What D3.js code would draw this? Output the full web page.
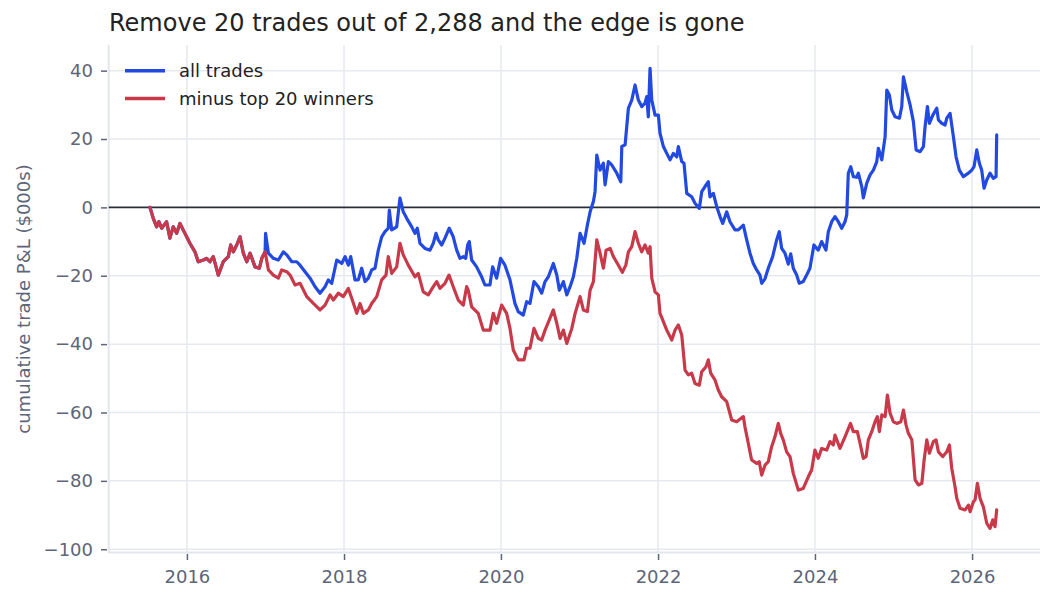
<!DOCTYPE html>
<html>
<head>
<meta charset="utf-8">
<script src="https://cdn.jsdelivr.net/npm/d3@7"></script>
<style>
  html, body { margin: 0; padding: 0; background: #fff; }
  svg { display: block; font-family: "DejaVu Sans", sans-serif; }
</style>
</head>
<body>
<svg id="chart" width="1053" height="602"></svg>
<script>
// stretch where both curves are the same (before the first removed winner)
const sharedYears = [2015.529, 2015.571, 2015.614, 2015.643, 2015.678, 2015.741, 2015.783, 2015.825, 2015.869, 2015.911, 2015.975, 2016.038, 2016.102, 2016.144, 2016.208, 2016.251, 2016.293, 2016.335, 2016.399, 2016.462, 2016.526, 2016.557, 2016.590, 2016.633, 2016.675, 2016.717, 2016.761, 2016.803, 2016.866, 2016.921, 2016.952, 2016.994];
const sharedValues = [0, -3.2, -5.7, -4.2, -6.1, -4.2, -9.0, -5.7, -7.6, -4.7, -7.6, -10.5, -13.0, -15.9, -15.4, -14.9, -15.9, -14.4, -19.8, -15.9, -14.4, -11.0, -13.0, -11.0, -8.6, -13.4, -15.9, -13.4, -17.4, -17.8, -14.9, -13.0];

// all trades
const allYears = [2017.000, 2017.036, 2017.099, 2017.163, 2017.227, 2017.270, 2017.334, 2017.397, 2017.439, 2017.503,
  2017.567, 2017.631, 2017.694, 2017.758, 2017.800, 2017.843, 2017.907, 2017.971, 2018.013, 2018.055,
  2018.085, 2018.140, 2018.182, 2018.225, 2018.268, 2018.310, 2018.353, 2018.395, 2018.437, 2018.480,
  2018.522, 2018.564, 2018.577, 2018.608, 2018.671, 2018.713, 2018.755, 2018.799, 2018.863, 2018.904,
  2018.934, 2018.968, 2019.032, 2019.096, 2019.138, 2019.172, 2019.201, 2019.245, 2019.287, 2019.341,
  2019.392, 2019.436, 2019.478, 2019.520, 2019.551, 2019.576, 2019.596, 2019.627, 2019.690, 2019.754,
  2019.796, 2019.860, 2019.894, 2019.945, 2019.996, 2020.051, 2020.115, 2020.178, 2020.220, 2020.284,
  2020.327, 2020.369, 2020.420, 2020.475, 2020.518, 2020.561, 2020.603, 2020.666, 2020.710, 2020.743,
  2020.794, 2020.837, 2020.879, 2020.921, 2020.964, 2021.006, 2021.057, 2021.099, 2021.134, 2021.176,
  2021.197, 2021.219, 2021.261, 2021.303, 2021.325, 2021.367, 2021.410, 2021.474, 2021.525, 2021.538,
  2021.580, 2021.622, 2021.665, 2021.707, 2021.749, 2021.792, 2021.834, 2021.856, 2021.876, 2021.898,
  2021.920, 2021.962, 2022.004, 2022.025, 2022.068, 2022.111, 2022.153, 2022.195, 2022.238, 2022.259,
  2022.302, 2022.331, 2022.366, 2022.429, 2022.471, 2022.526, 2022.557, 2022.599, 2022.641, 2022.662,
  2022.705, 2022.748, 2022.790, 2022.824, 2022.875, 2022.917, 2022.981, 2023.023, 2023.087, 2023.130,
  2023.172, 2023.214, 2023.257, 2023.299, 2023.321, 2023.363, 2023.405, 2023.461, 2023.512, 2023.545,
  2023.576, 2023.618, 2023.660, 2023.691, 2023.724, 2023.767, 2023.800, 2023.851, 2023.894, 2023.936,
  2023.987, 2024.042, 2024.085, 2024.140, 2024.170, 2024.213, 2024.255, 2024.297, 2024.340, 2024.382,
  2024.404, 2024.424, 2024.455, 2024.488, 2024.531, 2024.552, 2024.595, 2024.615, 2024.659, 2024.701,
  2024.743, 2024.786, 2024.806, 2024.850, 2024.892, 2024.913, 2024.946, 2024.977, 2025.019, 2025.074,
  2025.104, 2025.125, 2025.168, 2025.210, 2025.252, 2025.287, 2025.338, 2025.380, 2025.401, 2025.431,
  2025.456, 2025.500, 2025.550, 2025.571, 2025.614, 2025.656, 2025.678, 2025.720, 2025.762, 2025.796,
  2025.838, 2025.889, 2025.953, 2025.996, 2026.025, 2026.060, 2026.093, 2026.123, 2026.153, 2026.187,
  2026.229, 2026.271, 2026.306, 2026.314];
const allValues = [-7.6, -13.4, -14.9, -15.4, -13.0, -13.9, -15.9, -15.9, -16.9, -18.8,
  -20.7, -23.2, -25.1, -23.2, -21.2, -22.2, -15.4, -16.4, -14.4, -16.9,
  -14.4, -21.2, -21.2, -17.8, -21.7, -20.7, -18.3, -17.8, -12.5, -8.6,
  -7.1, -6.1, -0.8, -6.6, -5.7, 2.7, -1.3, -3.2, -5.7, -7.6,
  -6.1, -10.5, -12.0, -12.5, -10.5, -7.6, -9.5, -11.0, -9.0, -6.1,
  -8.6, -12.5, -14.9, -14.4, -14.9, -11.0, -10.0, -15.4, -17.4, -20.3,
  -22.7, -22.7, -17.4, -20.7, -14.9, -16.9, -21.2, -28.1, -30.5, -31.5,
  -27.6, -28.1, -21.7, -23.2, -25.1, -21.7, -20.3, -16.4, -19.8, -24.2,
  -21.7, -25.6, -23.2, -20.3, -14.9, -7.6, -10.5, -5.2, -1.3, 1.7,
  4.6, 15.3, 10.9, 12.9, 6.6, 13.4, 12.4, 10.0, 7.5, 17.8,
  18.3, 29.0, 31.4, 35.8, 31.4, 29.5, 30.5, 32.4, 26.5, 40.7,
  31.4, 27.0, 27.0, 21.7, 17.8, 15.8, 13.9, 15.8, 14.8, 17.8,
  13.4, 12.9, 4.1, 3.1, 1.2, -0.3, 4.6, 6.1, 7.5, 3.1,
  4.1, 0.2, -2.7, -4.7, -1.3, -4.2, -6.6, -6.6, -5.2, -9.5,
  -13.4, -16.4, -18.3, -19.8, -22.2, -20.9, -17.8, -14.4, -9.5, -7.1,
  -12.0, -13.4, -16.6, -13.6, -17.8, -19.8, -22.2, -21.7, -19.8, -17.8,
  -11.0, -12.5, -10.0, -12.5, -7.1, -4.2, -2.7, -4.2, -6.1, -4.2,
  -2.2, 10.0, 11.9, 9.0, 8.8, 10.0, 6.1, 2.8, 7.1, 9.5,
  10.9, 13.4, 17.3, 13.9, 20.7, 34.3, 32.9, 28.5, 26.5, 26.1,
  29.5, 38.2, 33.8, 30.0, 25.1, 16.8, 16.3, 17.8, 23.6, 29.5,
  24.6, 27.0, 29.0, 25.6, 24.6, 24.1, 26.1, 27.5, 20.7, 14.8,
  10.9, 9.0, 10.0, 10.9, 11.9, 16.8, 12.9, 10.9, 5.6, 8.0,
  10.0, 8.5, 9.0, 21.2];

// minus top 20 winners
const minusYears = [2017.036, 2017.099, 2017.163, 2017.206, 2017.270, 2017.312, 2017.376, 2017.439, 2017.525, 2017.609,
  2017.694, 2017.758, 2017.822, 2017.864, 2017.927, 2017.991, 2018.055, 2018.098, 2018.162, 2018.204,
  2018.246, 2018.310, 2018.353, 2018.417, 2018.480, 2018.535, 2018.564, 2018.608, 2018.671, 2018.713,
  2018.755, 2018.819, 2018.904, 2018.946, 2019.010, 2019.074, 2019.138, 2019.181, 2019.223, 2019.287,
  2019.338, 2019.392, 2019.456, 2019.520, 2019.563, 2019.583, 2019.627, 2019.711, 2019.775, 2019.860,
  2019.902, 2019.945, 2020.009, 2020.073, 2020.115, 2020.157, 2020.220, 2020.293, 2020.327, 2020.369,
  2020.420, 2020.475, 2020.518, 2020.561, 2020.615, 2020.666, 2020.710, 2020.752, 2020.794, 2020.837,
  2020.901, 2020.943, 2021.006, 2021.048, 2021.099, 2021.134, 2021.176, 2021.219, 2021.261, 2021.303,
  2021.338, 2021.389, 2021.431, 2021.482, 2021.545, 2021.589, 2021.622, 2021.665, 2021.707, 2021.749,
  2021.792, 2021.834, 2021.876, 2021.898, 2021.920, 2021.962, 2022.004, 2022.025, 2022.068, 2022.111,
  2022.175, 2022.217, 2022.259, 2022.302, 2022.344, 2022.386, 2022.429, 2022.471, 2022.526, 2022.557,
  2022.611, 2022.641, 2022.671, 2022.726, 2022.768, 2022.811, 2022.875, 2022.939, 2023.002, 2023.087,
  2023.108, 2023.150, 2023.193, 2023.257, 2023.290, 2023.321, 2023.363, 2023.405, 2023.448, 2023.490,
  2023.533, 2023.563, 2023.596, 2023.639, 2023.682, 2023.724, 2023.788, 2023.851, 2023.915, 2023.958,
  2024.000, 2024.042, 2024.085, 2024.149, 2024.191, 2024.233, 2024.255, 2024.318, 2024.382, 2024.452,
  2024.488, 2024.539, 2024.573, 2024.615, 2024.650, 2024.679, 2024.722, 2024.764, 2024.793, 2024.819,
  2024.850, 2024.892, 2024.921, 2024.955, 2024.997, 2025.041, 2025.092, 2025.125, 2025.159, 2025.188,
  2025.232, 2025.274, 2025.316, 2025.360, 2025.389, 2025.423, 2025.456, 2025.507, 2025.541, 2025.571,
  2025.627, 2025.678, 2025.711, 2025.741, 2025.783, 2025.805, 2025.847, 2025.911, 2025.954, 2025.975,
  2026.017, 2026.038, 2026.068, 2026.102, 2026.144, 2026.187, 2026.229, 2026.264, 2026.293, 2026.314];
const minusValues = [-18.3, -19.8, -20.7, -18.3, -18.8, -19.8, -22.7, -22.2, -26.1, -28.1,
  -30.0, -28.6, -25.6, -27.1, -25.1, -26.1, -23.7, -26.6, -31.0, -28.1,
  -31.0, -30.0, -28.1, -26.1, -21.2, -19.8, -14.4, -19.3, -17.4, -10.5,
  -13.9, -16.9, -20.3, -19.3, -24.7, -25.6, -23.2, -21.7, -23.7, -22.2,
  -19.8, -23.2, -27.1, -28.6, -23.2, -24.2, -29.1, -31.0, -35.9, -35.9,
  -31.0, -33.9, -28.6, -31.0, -35.4, -41.7, -44.6, -44.6, -41.2, -41.2,
  -35.4, -38.3, -38.8, -35.9, -32.9, -30.0, -33.9, -38.3, -35.9, -39.8,
  -35.4, -31.0, -26.1, -30.0, -30.5, -24.2, -21.7, -9.5, -13.4, -17.8,
  -12.5, -12.0, -14.4, -16.4, -19.0, -16.9, -13.0, -11.5, -7.1, -10.5,
  -13.0, -11.0, -13.4, -11.5, -20.7, -24.7, -25.6, -31.0, -33.4, -35.9,
  -38.8, -35.9, -34.4, -37.3, -47.6, -49.0, -48.5, -51.5, -52.0, -48.1,
  -46.6, -44.6, -48.5, -50.5, -53.4, -55.4, -56.8, -62.2, -62.7, -61.2,
  -64.2, -69.0, -73.9, -74.9, -74.4, -78.3, -75.4, -74.4, -70.0, -67.1,
  -63.2, -66.1, -68.0, -71.5, -72.9, -77.8, -82.7, -82.2, -78.8, -76.8,
  -71.0, -73.4, -70.5, -71.0, -68.5, -69.5, -66.6, -70.5, -67.1, -63.2,
  -65.6, -65.6, -69.0, -73.4, -72.9, -68.0, -65.6, -62.7, -61.2, -65.6,
  -60.7, -61.2, -54.9, -60.2, -62.7, -63.2, -62.7, -59.3, -63.7, -66.1,
  -68.0, -79.7, -81.2, -80.7, -73.9, -68.0, -71.9, -68.5, -68.0, -71.5,
  -72.9, -71.5, -69.5, -76.3, -81.7, -85.1, -88.0, -88.5, -87.1, -89.0,
  -86.1, -85.6, -80.7, -85.1, -87.6, -92.4, -93.9, -91.4, -93.4, -88.5];

const yTicks = [-100, -80, -60, -40, -20, 0, 20, 40];
const xTickYears = [2016, 2018, 2020, 2022, 2024, 2026];
const seriesNames = ['all trades', 'minus top 20 winners'];
const seriesColors = ['#2249e0', '#c8394a'];

// decimal year -> Date
function toDate(yr) {
  const y0 = Math.floor(yr);
  const a = Date.UTC(y0, 0, 1), b = Date.UTC(y0 + 1, 0, 1);
  return new Date(a + (yr - y0) * (b - a));
}

const svg = d3.select('#chart');
const plotLeft = 108.7, plotRight = 1040, plotTop = 45, plotBottom = 553;

const x = d3.scaleUtc()
  .domain([toDate(2015.003), toDate(2026.866)])
  .range([plotLeft, plotRight]);
const y = d3.scaleLinear()
  .domain([-101.1, 47.5])
  .range([plotBottom, plotTop]);

// GRID
svg.append('g').selectAll('line')
  .data(xTickYears).enter().append('line')
  .attr('x1', d => x(toDate(d))).attr('x2', d => x(toDate(d)))
  .attr('y1', plotTop).attr('y2', plotBottom)
  .attr('stroke', '#e6e9f0').attr('stroke-width', 1.5);
svg.append('g').selectAll('line')
  .data(yTicks.filter(d => d !== 0)).enter().append('line')
  .attr('x1', plotLeft).attr('x2', plotRight)
  .attr('y1', d => y(d)).attr('y2', d => y(d))
  .attr('stroke', '#e6e9f0').attr('stroke-width', 1.5);

// axis lines
svg.append('line').attr('x1', plotLeft).attr('x2', plotLeft).attr('y1', plotTop).attr('y2', plotBottom)
  .attr('stroke', '#e3e6ed').attr('stroke-width', 2);
svg.append('line').attr('x1', plotLeft).attr('x2', plotRight).attr('y1', plotBottom - 0.5).attr('y2', plotBottom - 0.5)
  .attr('stroke', '#e3e6ed').attr('stroke-width', 2);

// zero line
svg.append('line').attr('x1', plotLeft).attr('x2', plotRight).attr('y1', y(0)).attr('y2', y(0))
  .attr('stroke', '#2b2f3a').attr('stroke-width', 1.8);

// AXES
const yAxis = d3.axisLeft(y).tickValues(yTicks).tickSize(6).tickPadding(8).tickFormat(d3.format('d'));
const gy = svg.append('g').attr('transform', `translate(${plotLeft - 1.7},0)`).call(yAxis);
const xAxis = d3.axisBottom(x).tickValues(xTickYears.map(toDate)).tickSize(6).tickPadding(10.5)
  .tickFormat(d3.utcFormat('%Y'));
const gx = svg.append('g').attr('transform', `translate(0,${plotBottom + 1})`).call(xAxis);
[gx, gy].forEach(g => {
  g.select('.domain').remove();
  g.selectAll('.tick line').attr('stroke', '#5c6579').attr('stroke-width', 1.5);
  g.selectAll('.tick text').attr('fill', '#5c6579').style('font-size', '18px')
    .style('font-family', '"DejaVu Sans", sans-serif');
});

// LINES
const line = d3.line().x(d => x(toDate(d[0]))).y(d => y(d[1]));
const allData = d3.zip(sharedYears.concat(allYears), sharedValues.concat(allValues));
const minusData = d3.zip(sharedYears.concat(minusYears), sharedValues.concat(minusValues));

[allData, minusData].forEach((data, i) => {
  svg.append('path')
    .datum(data)
    .attr('d', line)
    .attr('fill', 'none')
    .attr('stroke', seriesColors[i])
    .attr('stroke-width', 3.2)
    .attr('stroke-linejoin', 'round')
    .attr('stroke-linecap', 'round');
});

// LEGEND
const legend = svg.append('g');
seriesNames.forEach((name, i) => {
  const ly = 70.7 + i * 27.7;
  legend.append('line').attr('x1', 125).attr('x2', 165).attr('y1', ly).attr('y2', ly)
    .attr('stroke', seriesColors[i]).attr('stroke-width', 3.5);
  legend.append('text').attr('x', 179).attr('y', ly).attr('dy', '0.35em')
    .attr('fill', '#222').style('font-size', '18px').text(name);
});

// TITLES
svg.append('text').attr('x', 109).attr('y', 31)
  .attr('fill', '#222').style('font-size', '24px')
  .text('Remove 20 trades out of 2,288 and the edge is gone');

svg.append('text')
  .attr('transform', `translate(30,${(plotTop + plotBottom) / 2}) rotate(-90)`)
  .attr('text-anchor', 'middle')
  .attr('fill', '#5c6579').style('font-size', '18px')
  .text('cumulative trade P&L ($000s)');
</script>
</body>
</html>
